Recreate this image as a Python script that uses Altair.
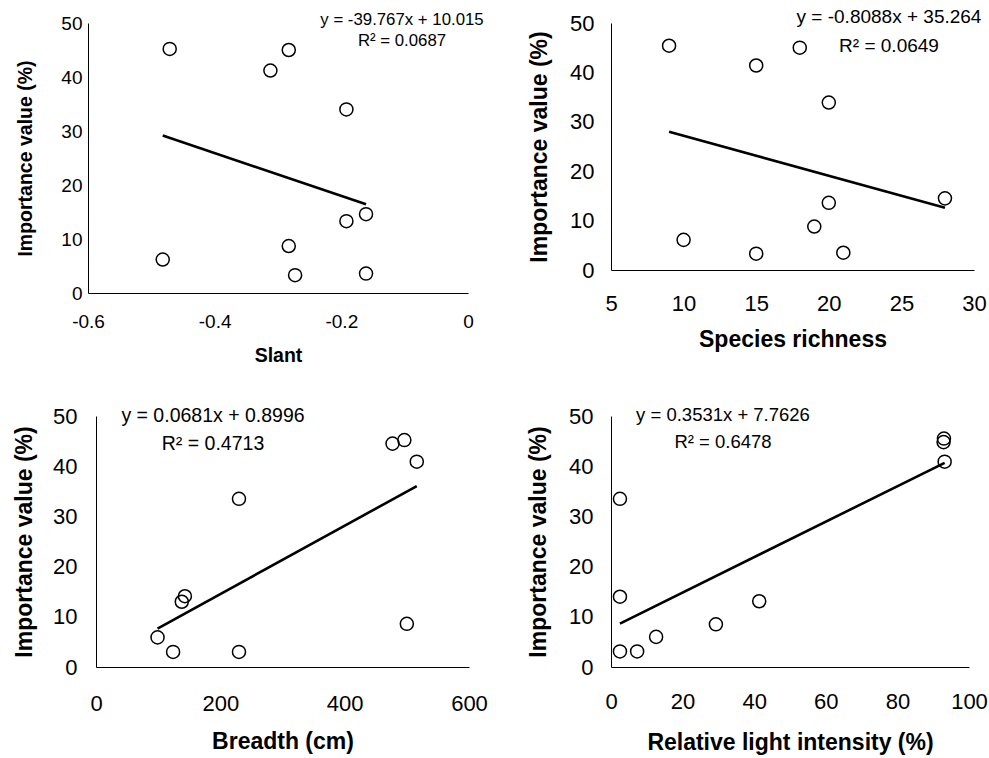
import altair as alt
import pandas as pd

FONT = "Liberation Sans"

# ---- data ----
slant = [-0.471, -0.283, -0.312, -0.192, -0.161, -0.192, -0.283, -0.482, -0.273, -0.161]
iv_slant = [45.2, 45.0, 41.2, 34.0, 14.6, 13.3, 8.7, 6.2, 3.3, 3.6]

richness = [9, 18, 15, 20, 28, 20, 19, 10, 15, 21]
iv_richness = [45.4, 45.0, 41.4, 33.9, 14.5, 13.6, 8.8, 6.1, 3.3, 3.5]

breadth = [496, 477, 516, 230, 143, 138, 500, 99, 124, 230]
iv_breadth = [45.2, 44.5, 40.9, 33.5, 14.1, 13.0, 8.6, 5.9, 3.0, 3.0]

light = [93.0, 92.9, 93.2, 2.5, 2.5, 41.4, 29.3, 12.6, 2.5, 7.3]
iv_light = [45.5, 44.8, 40.9, 33.5, 14.0, 13.1, 8.5, 6.0, 3.1, 3.1]

slopes = [-39.767, -0.8088, 0.0681, 0.3531]
intercepts = [10.015, 35.264, 0.8996, 7.7626]
equations = ["y = -39.767x + 10.015", "y = -0.8088x + 35.264",
             "y = 0.0681x + 0.8996", "y = 0.3531x + 7.7626"]
r2_texts = ["R² = 0.0687", "R² = 0.0649", "R² = 0.4713", "R² = 0.6478"]

x_titles = ["Slant", "Species richness", "Breadth (cm)", "Relative light intensity (%)"]
y_title = "Importance value (%)"
x_domains = [[-0.6, 0], [5, 30], [0, 600], [0, 100]]
x_ticks = [[-0.6, -0.4, -0.2, 0], [5, 10, 15, 20, 25, 30], [0, 200, 400, 600],
           [0, 20, 40, 60, 80, 100]]
y_ticks = [0, 10, 20, 30, 40, 50]


def panel(xv, yv, k, w, h, lab_fs, title_fs, eq_fs, xlab_pad, xtitle_pad,
          ylab_pad, ytitle_pad, eq_xy, r2_xy, label_expr=None, shift=0):
    df = pd.DataFrame({"x": xv, "y": yv})
    lo, hi = min(xv), max(xv)
    line_df = pd.DataFrame({"x": [lo, hi],
                            "y": [slopes[k] * lo + intercepts[k], slopes[k] * hi + intercepts[k]]})
    if shift:
        # plot rectangle drawn `shift` px left of the group origin
        xscale = alt.Scale(domain=x_domains[k], range=[-shift, w - shift], nice=False, zero=False)
    else:
        xscale = alt.Scale(domain=x_domains[k], nice=False, zero=False)
    yscale = alt.Scale(domain=[0, 50], nice=False, zero=False)
    xaxis_kw = dict(values=x_ticks[k], title=x_titles[k], grid=False, ticks=False, tickSize=0,
                    domainColor="black", domainWidth=1, labelFont=FONT, labelFontSize=lab_fs,
                    labelColor="black", labelPadding=xlab_pad, labelFlush=False,
                    labelOverlap=False, titleFont=FONT, titleFontSize=title_fs,
                    titleFontWeight="bold", titleColor="black", titlePadding=xtitle_pad)
    if label_expr:
        xaxis_kw["labelExpr"] = label_expr
    xaxis = alt.Axis(**xaxis_kw)
    yaxis_kw = dict(values=y_ticks, title=y_title, grid=False, ticks=False, tickSize=0,
                    domainColor="black", domainWidth=1, labelFont=FONT, labelFontSize=lab_fs,
                    labelColor="black", labelPadding=ylab_pad, labelOverlap=False,
                    titleFont=FONT, titleFontSize=title_fs, titleFontWeight="bold",
                    titleColor="black", titlePadding=ytitle_pad)
    if shift:
        yaxis_kw["offset"] = shift
    yaxis = alt.Axis(**yaxis_kw)
    pts = alt.Chart(df).mark_point(shape="circle", size=170, filled=False, color="black",
                                   strokeWidth=1.5, opacity=1).encode(
        x=alt.X("x:Q", scale=xscale, axis=xaxis),
        y=alt.Y("y:Q", scale=yscale, axis=yaxis))
    ln = alt.Chart(line_df).mark_line(color="black", strokeWidth=2.6).encode(
        x=alt.X("x:Q", scale=xscale, axis=xaxis),
        y=alt.Y("y:Q", scale=yscale, axis=yaxis))
    t1 = alt.Chart(pd.DataFrame({"t": [equations[k]]})).mark_text(
        font=FONT, fontSize=eq_fs, color="black", align="center", baseline="middle").encode(
        text="t:N", x=alt.value(eq_xy[0]), y=alt.value(eq_xy[1]))
    t2 = alt.Chart(pd.DataFrame({"t": [r2_texts[k]]})).mark_text(
        font=FONT, fontSize=eq_fs, color="black", align="center", baseline="middle").encode(
        text="t:N", x=alt.value(r2_xy[0]), y=alt.value(r2_xy[1]))
    return alt.layer(ln, pts, t1, t2).properties(width=w, height=h)


p1 = panel(slant, iv_slant, 0, 380, 270, 19, 19.5, 16.8, 19.5, 14.5, 6, 25.5,
           (306, -3), (306, 18),
           label_expr="datum.value == 0 ? '0' : (datum.value < 0 ? '-' : '') + format(abs(datum.value), '.1f')",
           shift=8)
p2 = panel(richness, iv_richness, 1, 363, 247, 22, 23, 19, 23.5, 14, 17, 18.5,
           (278, -6), (278, 23))
p3 = panel(breadth, iv_breadth, 2, 373, 251, 22, 23, 19.5, 26, 16.5, 19, 16.5,
           (117, 0), (117, 28))
p4 = panel(light, iv_light, 3, 358, 251, 22, 23, 18.5, 24.5, 19, 18, 18.5,
           (112, -1), (112, 26))

chart = alt.vconcat(
    alt.hconcat(p1, p2, spacing=44),
    alt.hconcat(p3, p4, spacing=39),
    spacing=40,
).properties(
    padding={"left": 13, "top": 8, "right": 0, "bottom": 0},
    background="white",
).configure_view(stroke=None)

chart.save("out.html", embed_options={"renderer": "svg", "actions": False})
